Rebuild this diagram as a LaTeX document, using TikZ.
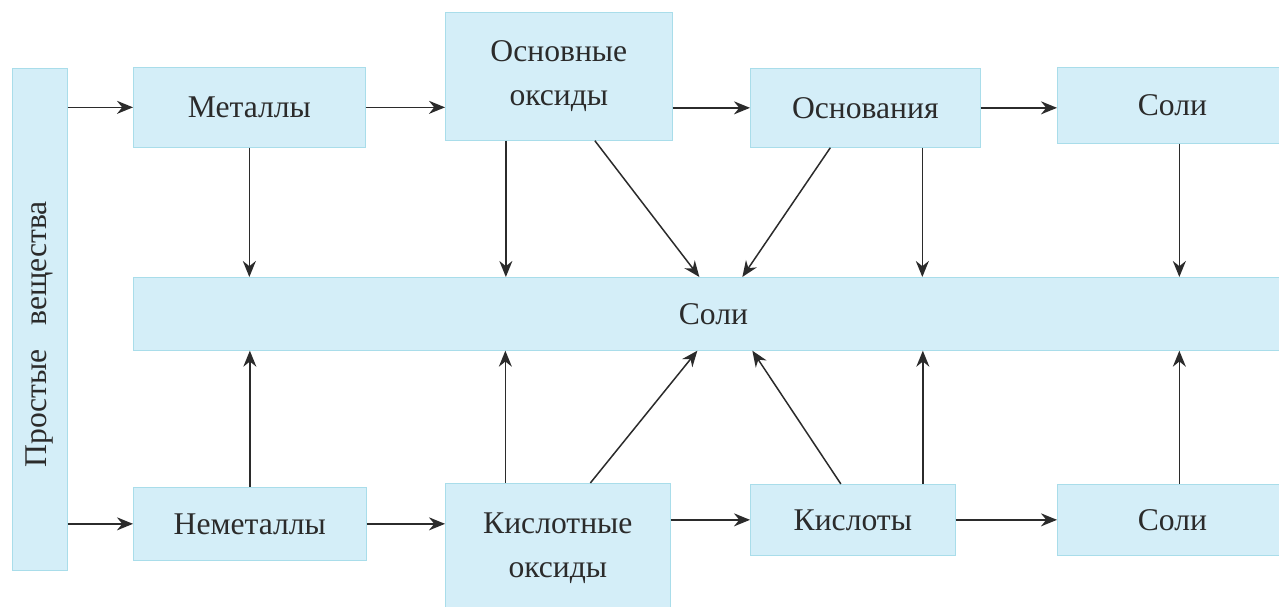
\documentclass[tikz,border=0pt]{standalone}
\usepackage{fontspec}
\setmainfont{Liberation Serif}
\usetikzlibrary{arrows.meta}
\definecolor{ice}{HTML}{D4EEF8}
\definecolor{rim}{HTML}{A9DDEA}
\definecolor{ink}{HTML}{2B2B2B}
\tikzset{
  blkstyle/.style={anchor=north west,draw=rim,fill=ice,inner sep=0pt,align=center,
    text=ink,font=\fontsize{18}{25}\selectfont},
  link/.style={draw=ink,line width=0.85pt,-{Stealth[length=0.32cm,width=0.26cm]}}
}
% name, x, y, width, height (pixel units), text
\newcommand{\blk}[6]{\node[blkstyle,minimum width=#4*0.02cm,minimum height=#5*0.02cm] (#1) at (#2,#3) {#6};}

\begin{document}
\begin{tikzpicture}[x=0.02cm,y=-0.02cm]
\useasboundingbox (0,0) rectangle (1279,607);
\clip (0,0) rectangle (1279,607);
\fill[white] (0,0) rectangle (1279,607);
\blk{simple}{12}{68}{55}{502}{}
\node[rotate=90,text=ink,font=\fontsize{18}{22}\selectfont] (simpletxt) at ([yshift=-0.3cm]simple.center) {Простые\enspace\ вещества};
\blk{met}{133}{67}{232}{80}{Металлы}
\blk{oxb}{445}{12}{227}{128}{Основные\\оксиды}
\blk{base}{750}{68}{230}{79}{Основания}
\blk{salta}{1057}{67}{230}{76}{Соли}
\blk{salt}{133}{277}{1160}{73}{Соли}
\blk{nm}{133}{487}{233}{73}{Неметаллы}
\blk{oxa}{445}{483}{225}{130}{Кислотные\\оксиды}
\blk{acid}{750}{484}{205}{71}{Кислоты}
\blk{saltb}{1057}{484}{230}{71}{Соли}
% upper row
\draw[link] (met.west -| simple.east) -- (met.west);
\draw[link] (met.east) -- (met.east -| oxb.west);
\draw[link] (base.west -| oxb.east) -- (base.west);
\draw[link] (base.east) -- (base.east -| salta.west);
% lower row
\draw[link] (nm.west -| simple.east) -- (nm.west);
\draw[link] (nm.east) -- (nm.east -| oxa.west);
\draw[link] (acid.west -| oxa.east) -- (acid.west);
\draw[link] (acid.east) -- (saltb.west);
% down into the salts
\draw[link] (met.south) -- (met.south |- salt.north);
\draw[link] ([xshift=-1.06cm]oxb.south) -- ([xshift=-1.06cm]oxb.south |- salt.north);
\draw[link] ([xshift=0.72cm]oxb.south) -- ([xshift=-0.28cm]salt.north);
\draw[link] ([xshift=-0.7cm]base.south) -- ([xshift=0.58cm]salt.north);
\draw[link] ([xshift=1.14cm]base.south) -- ([xshift=1.14cm]base.south |- salt.north);
\draw[link] ([xshift=0.14cm]salta.south) -- ([xshift=0.14cm]salta.south |- salt.north);
% up into the salts
\draw[link] (nm.north) -- (nm.north |- salt.south);
\draw[link] ([xshift=-1.05cm]oxa.north) -- ([xshift=-1.05cm]oxa.north |- salt.south);
\draw[link] ([xshift=0.65cm]oxa.north) -- ([xshift=-0.32cm]salt.south);
\draw[link] ([xshift=-0.24cm]acid.north) -- ([xshift=0.78cm]salt.south);
\draw[link] ([xshift=1.4cm]acid.north) -- ([xshift=1.4cm]acid.north |- salt.south);
\draw[link] ([xshift=0.14cm]saltb.north) -- ([xshift=0.14cm]saltb.north |- salt.south);
\end{tikzpicture}
\end{document}
